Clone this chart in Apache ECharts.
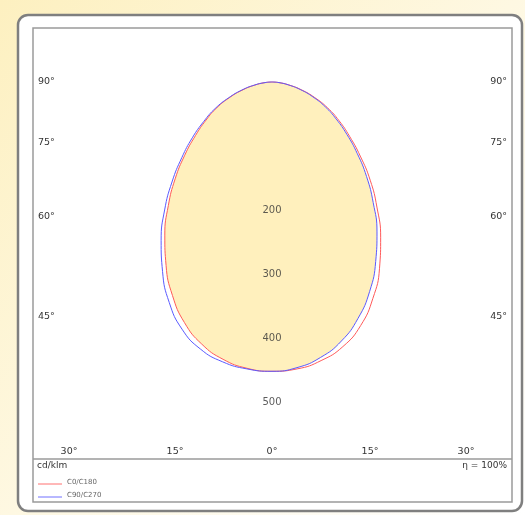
<!DOCTYPE html>
<html>
<head>
<meta charset="utf-8">
<script src="https://cdn.jsdelivr.net/npm/echarts@6/dist/echarts.min.js"></script>
<style>
html,body{margin:0;padding:0;background:#fff;}
#c{width:525px;height:515px;}
</style>
</head>
<body>
<div id="c"></div>
<script>
// Gamma angles (degrees from nadir)
const angles = [0,5,10,15,20,25,30,35,40,45,50,55,60,65,70,75,80,85,90];
// Luminous intensity, cd/klm
const c0   = [452,450,442,428,405,373,336,296,255,217,180,148,121,96,71,48,27,11,0];
const c180 = [452,449,440,424,400,368,331,292,252,214,178,146,119,95,70,47,27,11,0];
const c90  = [452,448,437,419,393,361,324,286,246,209,174,143,116,92,68,46,26,11,0];
const c270 = [452,450,444,432,411,380,342,302,261,221,184,152,123,98,72,49,28,11,0];
// Tick labels
const radiusTicks = [200,300,400,500];
const sideTicks = ['90°','75°','60°','45°'];
const bottomTicks = ['30°','15°','0°','15°','30°'];
const seriesNames = ['C0/C180','C90/C270'];

function curve(left, right){
  const d = [];
  for (let i = angles.length - 1; i >= 0; i--) d.push([left[i], 360 - angles[i]]);
  for (let i = 1; i < angles.length; i++) d.push([right[i], angles[i]]);
  return d;
}

const font = 'DejaVu Sans';
const txtColor = '#333333';
const sideY = [82,143,217,317];
const bottomX = [69,175,272,370,466];
const graphic = [
  {type:'rect', z:-10, shape:{x:0,y:0,width:525,height:515}, style:{fill:new echarts.graphic.LinearGradient(0,0,1,1,[{offset:0,color:'#fdf0c0'},{offset:0.5,color:'#fef8e2'},{offset:1,color:'#ffffff'}])}},
  {type:'rect', z:-9, shape:{x:18,y:15,width:504,height:496,r:10}, style:{fill:'#ffffff',stroke:'#7f7f7f',lineWidth:2.5}},
  {type:'rect', z:-8, shape:{x:33,y:28,width:479,height:474}, style:{fill:'none',stroke:'#9a9a9a',lineWidth:1.5}},
  {type:'line', z:-8, shape:{x1:33,y1:459,x2:512,y2:459}, style:{stroke:'#9a9a9a',lineWidth:1.5}},
  {type:'text', left:37, top:461, style:{text:'cd/klm', fill:txtColor, font:'9px '+font}},
  {type:'text', right:18, top:461, style:{text:'η = 100%', fill:txtColor, font:'9px '+font}},
  {type:'line', shape:{x1:38,y1:484,x2:62,y2:484}, style:{stroke:'#ff7070',lineWidth:1}},
  {type:'line', shape:{x1:38,y1:497,x2:62,y2:497}, style:{stroke:'#7070ff',lineWidth:1}},
  {type:'text', left:67, top:479, style:{text:seriesNames[0], fill:'#666', font:'7px '+font}},
  {type:'text', left:67, top:492, style:{text:seriesNames[1], fill:'#666', font:'7px '+font}}
];
sideTicks.forEach((t,i)=>{
  graphic.push({type:'text', x:38, y:sideY[i], style:{text:t, fill:txtColor, font:'9.5px '+font, verticalAlign:'middle'}});
  graphic.push({type:'text', x:507, y:sideY[i], style:{text:t, fill:txtColor, font:'9.5px '+font, verticalAlign:'middle', align:'right'}});
});
bottomTicks.forEach((t,i)=>{
  graphic.push({type:'text', x:bottomX[i], y:452, style:{text:t, fill:txtColor, font:'9.5px '+font, verticalAlign:'middle', align:'center'}});
});

const fillData = curve(c180, c90);
const chart = echarts.init(document.getElementById('c'), null, {renderer:'canvas'});
chart.setOption({
  animation:false,
  backgroundColor:'transparent',
  graphic: graphic,
  polar:{center:[272,82], radius:448},
  angleAxis:{type:'value', min:0, max:360, startAngle:270, clockwise:false, show:false, splitLine:{show:false}},
  radiusAxis:{type:'value', min:0, max:700, show:false, splitLine:{show:false}},
  series:[
    {type:'line', coordinateSystem:'polar', data:fillData, symbol:'none', smooth:true, z:1,
     lineStyle:{width:0, opacity:0}, areaStyle:{color:'#fff0bd', opacity:1}, silent:true},
    {name:seriesNames[0], type:'line', coordinateSystem:'polar', data:curve(c180, c0), symbol:'none', smooth:true, z:3,
     lineStyle:{color:'#ff5a5a', width:1}},
    {name:seriesNames[1], type:'line', coordinateSystem:'polar', data:curve(c270, c90), symbol:'none', smooth:true, z:3,
     lineStyle:{color:'#5a5aff', width:1}},
    {type:'scatter', coordinateSystem:'polar', data:radiusTicks.map(v=>[v,0]), symbolSize:0, z:4,
     label:{show:true, position:'inside', formatter:p=>String(p.value[0]), color:txtColor, fontSize:10, fontFamily:font}}
  ]
});
</script>
</body>
</html>
